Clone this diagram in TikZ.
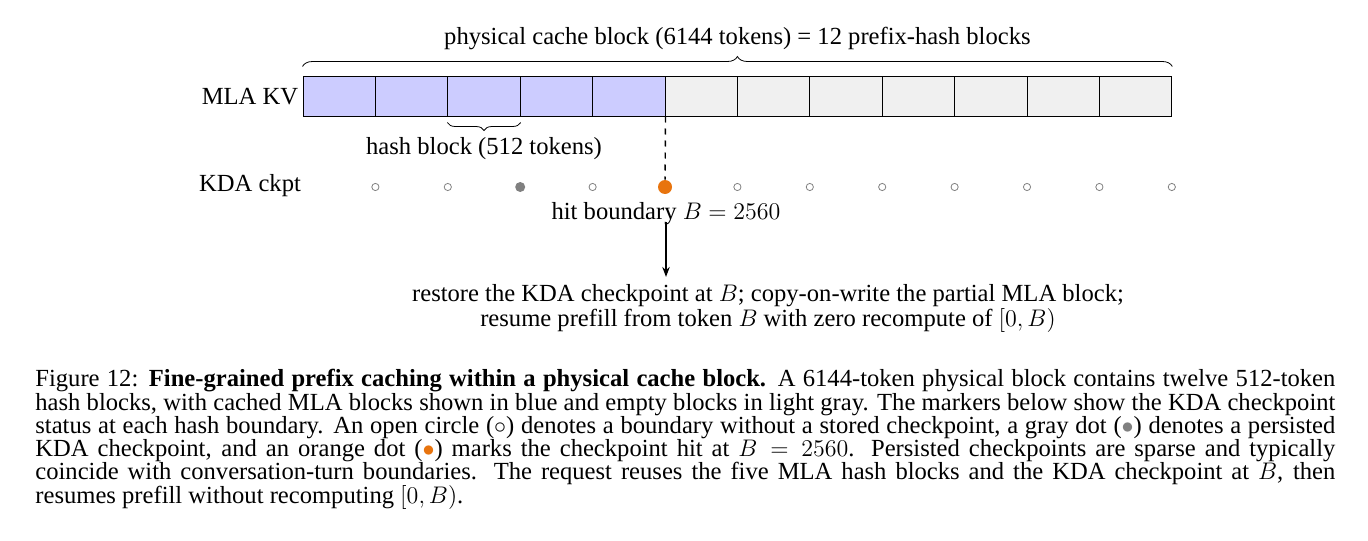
\documentclass[tikz,border=0pt]{standalone}
\usepackage{fontspec}
\setmainfont{Liberation Serif}
\usetikzlibrary{arrows.meta,positioning,decorations.pathreplacing}
\definecolor{mlablue}{HTML}{CCCCFF}
\definecolor{emptygray}{HTML}{F0F0F0}
\definecolor{hitorange}{HTML}{E8740E}
\begin{document}
\begin{tikzpicture}[x=0.5pt,y=-0.5pt,
    every node/.style={font=\fontsize{12.3}{13}\selectfont},
    blk/.style={rectangle,draw=black,line width=0.5pt,minimum width=36.2pt,minimum height=19.5pt,inner sep=0pt},
    dotE/.style={circle,draw=gray,line width=0.4pt,fill=white,minimum size=3.6pt,inner sep=0pt},
    dotP/.style={circle,fill=gray,minimum size=5pt,inner sep=0pt},
    dotH/.style={circle,fill=hitorange,minimum size=7pt,inner sep=0pt}]
  \useasboundingbox (0,0) rectangle (1368,540);
  % hash blocks and checkpoint markers
  \foreach \i in {1,...,12}{
    \ifnum\i<6 \def\blkfill{mlablue}\else\def\blkfill{emptygray}\fi
    \node[blk,fill=\blkfill] (b\i) at ({303+72.4*(\i-0.5)},96.5) {};
    \node[dotE] (d\i) at ({303+72.4*\i},187) {};
  }
  \node[dotP] (d3) at (d3) {};
  \node[dotH] (d5) at (d5) {};
  % labels
  \node (mla) at (250,97) {MLA KV};
  \node (kda) at (250,186) {KDA ckpt};
  \draw[decorate,decoration={brace,amplitude=5pt}]
    ([yshift=5pt]b1.north west) -- ([yshift=5pt]b12.north east)
    node[midway,above=5pt] (phys) {physical cache block (6144 tokens) = 12 prefix-hash blocks};
  \draw[decorate,decoration={brace,amplitude=4pt,mirror}]
    ([yshift=-3pt]b3.south west) -- ([yshift=-3pt]b3.south east)
    node[midway,below=4pt] (hash) {hash block (512 tokens)};
  \draw[dashed,line width=0.7pt] (b5.south east) -- (d5);
  \node (hit) at (666,214) {hit boundary $B=2560$};
  \node[align=center,font=\fontsize{12.3}{12.5}\selectfont] (restore) at (768,308)
    {restore the KDA checkpoint at $B$; copy-on-write the partial MLA block;\\
     resume prefill from token $B$ with zero recompute of $[0,B)$};
  \draw[-{Stealth[length=5pt]},line width=0.6pt] (hit.south) ++(0,-10) coordinate (a0) -- (a0 |- restore.north);
  % caption
  \node[anchor=north west,text width=650pt,align=justify,inner sep=0pt,
        font=\fontsize{12.3}{11.65}\selectfont] (cap) at (35,369)
   {\hyphenpenalty=10000\exhyphenpenalty=10000
    Figure 12: \textbf{Fine-grained prefix caching within a physical cache block.} A 6144-token physical block contains twelve 512-token\linebreak
    hash blocks, with cached MLA blocks shown in blue and empty blocks in light gray. The markers below show the KDA checkpoint\linebreak
    status at each hash boundary. An open circle ($\circ$) denotes a boundary without a stored checkpoint, a gray dot (\textcolor{gray}{$\bullet$}) denotes a persisted\linebreak
    KDA checkpoint, and an orange dot (\textcolor{hitorange}{$\bullet$}) marks the checkpoint hit at $B=2560$. Persisted checkpoints are sparse and typically\linebreak
    coincide with conversation-turn boundaries. The request reuses the five MLA hash blocks and the KDA checkpoint at $B$, then\linebreak
    resumes prefill without recomputing $[0,B)$.};
\end{tikzpicture}
\end{document}
